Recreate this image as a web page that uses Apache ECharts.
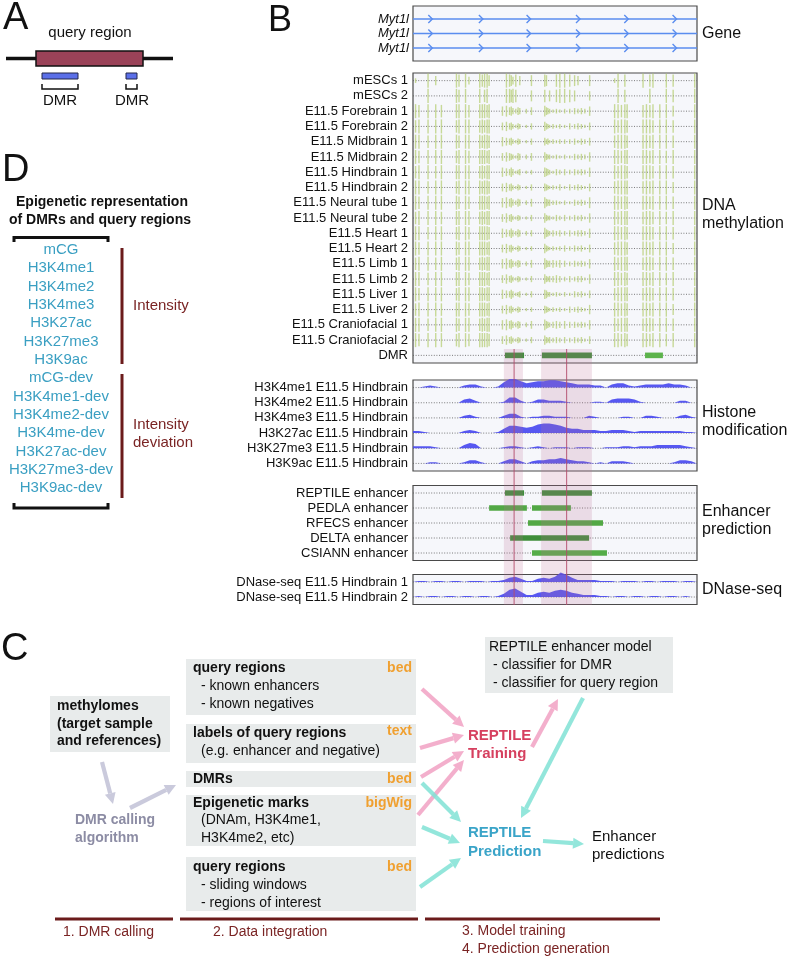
<!DOCTYPE html>
<html><head><meta charset="utf-8">
<script src="https://cdn.jsdelivr.net/npm/echarts@6/dist/echarts.min.js"></script>
<style>html,body{margin:0;padding:0;background:#fff}#c{width:793px;height:959px}</style>
</head><body><div id="c"></div><script>
const FONT = '"Liberation Sans", Arial, Helvetica, sans-serif';

// ================= DATA =================
// genomic axis: arbitrary units 0..1000 across the browser window
const geneNames = ['Myt1l', 'Myt1l', 'Myt1l'];
const geneStart = 0, geneEnd = 1000;
const geneChevrons = [61, 239, 407, 581, 751, 921];

const methSamples = ['mESCs 1', 'mESCs 2', 'E11.5 Forebrain 1', 'E11.5 Forebrain 2', 'E11.5 Midbrain 1',
  'E11.5 Midbrain 2', 'E11.5 Hindbrain 1', 'E11.5 Hindbrain 2', 'E11.5 Neural tube 1', 'E11.5 Neural tube 2',
  'E11.5 Heart 1', 'E11.5 Heart 2', 'E11.5 Limb 1', 'E11.5 Limb 2', 'E11.5 Liver 1', 'E11.5 Liver 2',
  'E11.5 Craniofacial 1', 'E11.5 Craniofacial 2'];
const cpgSites = [9, 21, 53, 80, 100, 153, 162, 185, 197, 235, 244, 252, 261, 268,
  315, 329, 340, 346, 352, 362, 370, 376, 399, 417,
  464, 470, 475, 481, 493, 505, 517, 534, 552, 569, 581, 593, 605, 622,
  710, 722, 734, 746, 754, 810, 822, 834, 845, 869, 892, 916, 992];
// methylation level per CpG site (0..9), one string per sample
const methLevels = [
  '30960989598997' + '0987580607' + '87000899876007' + '3908090890989',
  '00900989090890' + '0998980007' + '80070899870006' + '0908000900989',
  '98998999899989' + '6756435435' + '75432323343436' + '9989989899979',
  '89999899989899' + '5645324324' + '64323232434325' + '9899899989989',
  '99899989998998' + '6545324324' + '53423233342435' + '8999899899989',
  '98999899899989' + '5654325435' + '64332323243436' + '9989999899899',
  '89989999989899' + '6546423423' + '65432434343436' + '9899899989989',
  '99899899998998' + '5645324324' + '54323242434325' + '8999989899979',
  '98999989899989' + '6756435435' + '75443323243437' + '9989899899989',
  '89998999989899' + '5645324324' + '64332434343426' + '9899989989899',
  '99899899899998' + '6546435434' + '75434343434436' + '9989899989989',
  '98999989999989' + '5645324323' + '64323234343425' + '8999899899979',
  '89989899989899' + '6756435435' + '75445454343436' + '9899989989989',
  '99899999899989' + '5645324324' + '64344543434426' + '9989899899899',
  '98999899999899' + '6546423424' + '65332323243425' + '8999989989989',
  '89998999899989' + '5645324323' + '54323232434326' + '9989899899979',
  '99899989989899' + '6756435435' + '75434545443436' + '9899989989989',
  '98999899899998' + '5645324324' + '64343434343425' + '9989899899899'
];
const dmrRegions = [[324, 391], [454, 630], [817, 880]];

const signalPos = [0, 20, 40, 60, 80, 100, 120, 140, 160, 180, 200, 220, 240, 260, 280, 300, 320, 340, 360, 380,
  400, 420, 440, 460, 480, 500, 520, 540, 560, 580, 600, 620, 640, 660, 680, 700, 720, 740, 760, 780,
  800, 820, 840, 860, 880, 900, 920, 940, 960, 980, 1000];
const histoneNames = ['H3K4me1 E11.5 Hindbrain', 'H3K4me2 E11.5 Hindbrain', 'H3K4me3 E11.5 Hindbrain',
  'H3K27ac E11.5 Hindbrain', 'H3K27me3 E11.5 Hindbrain', 'H3K9ac E11.5 Hindbrain'];
const h3k4me1 = [0,0,1,2,1, 0,0,0,0,2, 3,3,1,0,0, 1,5,8,8,6, 4,5,6,6,7, 7,6,5,4,3, 3,3,2,2,0, 3,4,4,2,1, 2,3,3,3,3, 4,3,3,2,0, 0];
const h3k4me2 = [0,0,0,0,0, 0,0,0,0,3, 4,2,0,0,0, 0,1,5,5,2, 0,1,3,3,2, 2,2,1,0,0, 0,0,1,1,0, 3,4,4,4,3, 1,0,0,0,0, 0,0,2,2,0, 0];
const h3k4me3 = [0,0,0,0,0, 0,0,0,0,2, 3,1,0,0,0, 0,2,4,4,1, 0,1,1,2,2, 1,1,1,0,0, 0,2,1,0,0, 0,0,1,1,0, 0,2,2,1,0, 0,0,2,3,1, 0];
const h3k27ac = [2,2,1,0,0, 0,0,0,0,2, 3,2,0,0,0, 1,4,7,7,6, 5,6,8,9,9, 8,7,5,4,4, 3,3,3,2,2, 3,3,3,2,1, 2,2,2,2,2, 2,2,2,1,1, 0];
const h3k27me3 = [2,2,2,2,1, 0,0,0,0,3, 5,4,0,0,0, 0,1,2,2,1, 0,1,2,1,0, 1,1,1,0,1, 1,1,0,0,1, 1,1,2,2,1, 2,2,2,3,3, 3,3,3,2,1, 0];
const h3k9ac = [0,0,0,1,1, 0,0,0,0,1, 3,3,1,0,0, 0,2,4,4,2, 0,2,3,3,4, 4,5,4,3,2, 2,1,0,1,0, 2,2,2,1,0, 0,0,0,0,0, 0,1,3,3,2, 0];
const histoneSignals = [h3k4me1, h3k4me2, h3k4me3, h3k27ac, h3k27me3, h3k9ac];

const enhancerNames = ['REPTILE enhancer', 'PEDLA enhancer', 'RFECS enhancer', 'DELTA enhancer', 'CSIANN enhancer'];
const reptileCalls = [[324, 391], [454, 630]];
const pedlaCalls = [[268, 401], [419, 556]];
const rfecsCalls = [[405, 669]];
const deltaCalls = [[342, 620]];
const csiannCalls = [[419, 683]];
const enhancerCalls = [reptileCalls, pedlaCalls, rfecsCalls, deltaCalls, csiannCalls];

const dnaseNames = ['DNase-seq E11.5 Hindbrain 1', 'DNase-seq E11.5 Hindbrain 2'];
const dnase1 = [0,1,1,0,1, 1,0,1,1,0, 1,1,1,0,1, 1,2,4,5,3, 1,1,3,4,3, 5,9,7,4,2, 2,2,2,1,1, 1,0,1,1,1, 0,1,1,0,1, 1,1,0,1,1, 0];
const dnase2 = [0,1,0,1,1, 0,1,1,0,1, 1,0,1,1,0, 1,3,7,8,5, 2,2,4,5,4, 6,7,6,4,3, 2,2,2,1,1, 0,1,1,0,1, 1,0,1,1,0, 1,1,0,1,0, 0];
const dnaseSignals = [dnase1, dnase2];

const highlightRegions = [[320, 387], [451, 630]];
const highlightLines = [356, 541];

// ================= STYLES =================
const GENE_BLUE = '#5a8def';
const METH_GREEN = '#b3cc6e';
const SIGNAL_BLUE = '#4646f0';
const DMR_COLORS = ['#3e8e3a', '#3e8e3a', '#5cb34c'];
const ENH_COLORS = ['#3e8e3a', '#52a845', '#52a845', '#3e8e3a', '#55ad48'];
const BOX_BG = '#f6f7fb';
const BORDER = '#4a4a4a';
const ROW_LINE = '#5a5a5a';

const BX = 413, BW = 284;
const FRAME = {show: true, backgroundColor: BOX_BG, borderColor: BORDER, borderWidth: 1.2};
const grids = [
  {left: BX, top: 11.75, width: BW, height: 43.5, show: false},   // gene rows
  Object.assign({left: BX, top: 73, width: BW, height: 290}, FRAME),
  Object.assign({left: BX, top: 380, width: BW, height: 91}, FRAME),
  Object.assign({left: BX, top: 485.5, width: BW, height: 75}, FRAME),
  Object.assign({left: BX, top: 574.5, width: BW, height: 30}, FRAME),
  {left: BX, top: 349, width: BW, height: 256, show: false},       // highlight overlay
  Object.assign({left: BX, top: 6, width: BW, height: 55}, FRAME)   // gene frame
];

const xAxes = grids.map((g, i) => ({type: 'value', gridIndex: i, min: 0, max: 1000, show: false}));
const catY = (gi, data, extra) => ({type: 'category', gridIndex: gi, data, inverse: true,
  axisLine: {show: false}, axisTick: {show: false}, splitLine: {show: false},
  axisLabel: Object.assign({interval: 0, fontSize: 13, color: '#111', fontFamily: FONT, margin: 5}, extra || {})});
const yAxes = [
  catY(0, geneNames, {fontStyle: 'italic', margin: 4}),
  catY(1, methSamples.concat(['DMR'])),
  catY(2, histoneNames),
  catY(3, enhancerNames),
  catY(4, dnaseNames),
  {type: 'value', gridIndex: 5, min: 0, max: 1, inverse: true, show: false},
  {type: 'value', gridIndex: 6, min: 0, max: 1, show: false}
];

function rowLines(gi, n) {
  const data = [];
  for (let i = 0; i < n; i++) data.push([0, i]);
  return {type: 'custom', xAxisIndex: gi, yAxisIndex: gi, data, silent: true, z: 1,
    renderItem: (p, api) => {
      const i = api.value(1);
      const a = api.coord([0, i]), b = api.coord([1000, i]);
      return {type: 'line', shape: {x1: a[0], y1: a[1], x2: b[0], y2: b[1]},
        style: {stroke: ROW_LINE, lineWidth: 0.8, lineDash: [1, 1.6]}};
    }};
}

function profileSeries(gi, signals, scale) {
  return {type: 'custom', xAxisIndex: gi, yAxisIndex: gi, silent: true, z: 3,
    data: signals.map((s, i) => [0, i]),
    renderItem: (p, api) => {
      const i = api.value(1);
      const sig = signals[i];
      const unit = api.size([0, 1])[1];
      const pts = [api.coord([signalPos[0], i])];
      sig.forEach((v, k) => {
        const c = api.coord([signalPos[k], i]);
        pts.push([c[0], c[1] - v / 10 * unit * scale]);
      });
      pts.push(api.coord([signalPos[signalPos.length - 1], i]));
      return {type: 'polygon', shape: {points: pts}, style: {fill: SIGNAL_BLUE, opacity: 0.9}};
    }};
}

// methylation bar data
const methData = [];
methLevels.forEach((str, r) => {
  for (let k = 0; k < Math.min(str.length, cpgSites.length); k++) {
    const lv = +str[k];
    if (lv > 0) methData.push([cpgSites[k], r, lv]);
  }
});

const series = [
  // gene
  {type: 'custom', xAxisIndex: 0, yAxisIndex: 0, silent: true, z: 5, data: geneNames.map((n, i) => [0, i]),
    renderItem: (p, api) => {
      const i = api.value(1);
      const a = api.coord([geneStart, i]), b = api.coord([geneEnd, i]);
      const kids = [{type: 'line', shape: {x1: a[0], y1: a[1], x2: b[0], y2: b[1]}, style: {stroke: GENE_BLUE, lineWidth: 1.6}}];
      geneChevrons.forEach(c => {
        const q = api.coord([c, i]);
        kids.push({type: 'polyline', shape: {points: [[q[0] - 2, q[1] - 4], [q[0] + 2, q[1]], [q[0] - 2, q[1] + 4]]},
          style: {stroke: GENE_BLUE, lineWidth: 1.4, fill: 'none'}});
      });
      return {type: 'group', children: kids};
    }},
  // methylation
  rowLines(1, methSamples.length + 1),
  {type: 'custom', xAxisIndex: 1, yAxisIndex: 1, silent: true, z: 3, data: methData,
    renderItem: (p, api) => {
      const c = api.coord([api.value(0), api.value(1)]);
      const unit = api.size([0, 1])[1];
      const h = api.value(2) / 9 * unit * 0.46;
      return {type: 'rect', shape: {x: c[0] - 0.7, y: c[1] - h, width: 1.4, height: 2 * h},
        style: {fill: METH_GREEN, opacity: 0.7}};
    }},
  {type: 'custom', xAxisIndex: 1, yAxisIndex: 1, silent: true, z: 4,
    data: dmrRegions.map((d, k) => [d[0], methSamples.length, d[1], k]),
    renderItem: (p, api) => {
      const a = api.coord([api.value(0), api.value(1)]), b = api.coord([api.value(2), api.value(1)]);
      return {type: 'rect', shape: {x: a[0], y: a[1] - 2.8, width: b[0] - a[0], height: 5.6},
        style: {fill: DMR_COLORS[api.value(3)]}};
    }},
  // histone
  rowLines(2, histoneNames.length),
  profileSeries(2, histoneSignals, 0.7),
  // enhancer
  rowLines(3, enhancerNames.length),
  {type: 'custom', xAxisIndex: 3, yAxisIndex: 3, silent: true, z: 4,
    data: enhancerCalls.flatMap((calls, i) => calls.map(c => [c[0], i, c[1]])),
    renderItem: (p, api) => {
      const i = api.value(1);
      const a = api.coord([api.value(0), i]), b = api.coord([api.value(2), i]);
      return {type: 'rect', shape: {x: a[0], y: a[1] - 2.7, width: b[0] - a[0], height: 5.4},
        style: {fill: ENH_COLORS[i]}};
    }},
  // dnase
  rowLines(4, dnaseNames.length),
  profileSeries(4, dnaseSignals, 0.7),
  // highlight overlay
  {type: 'custom', xAxisIndex: 5, yAxisIndex: 5, silent: true, z: 10,
    data: highlightRegions.map(r => [r[0], 0, r[1]]),
    renderItem: (p, api) => {
      const a = api.coord([api.value(0), 0]), b = api.coord([api.value(2), 1]);
      return {type: 'rect', shape: {x: a[0], y: Math.min(a[1], b[1]), width: b[0] - a[0], height: Math.abs(b[1] - a[1])},
        style: {fill: 'rgba(190,110,150,0.2)'}};
    }},
  {type: 'custom', xAxisIndex: 5, yAxisIndex: 5, silent: true, z: 11,
    data: highlightLines.map(x => [x, 0]),
    renderItem: (p, api) => {
      const a = api.coord([api.value(0), 0]), b = api.coord([api.value(0), 1]);
      return {type: 'line', shape: {x1: a[0], y1: a[1], x2: b[0], y2: b[1]},
        style: {stroke: '#b24a6a', lineWidth: 1, opacity: 0.9}};
    }}
];

// ================= ANNOTATION GRAPHICS (panels A, B titles, C, D) =================
function txt(text, x, y, o = {}) {
  return {type: 'text', x, y, silent: true, z: 20, style: {text, fill: o.color || '#111',
    fontSize: o.size || 14, fontWeight: o.weight || 'normal', fontStyle: o.style || 'normal', fontFamily: FONT,
    textAlign: o.align || 'left', align: o.align || 'left', textVerticalAlign: 'middle', verticalAlign: 'middle'}};
}
function rect(x, y, w, h, fill, stroke, lw) {
  return {type: 'rect', silent: true, z: 15, shape: {x, y, width: w, height: h},
    style: {fill, stroke: stroke || null, lineWidth: lw || 0}};
}
function pline(points, color, lw) {
  return {type: 'polyline', silent: true, z: 16, shape: {points}, style: {stroke: color, lineWidth: lw, fill: 'none'}};
}
function arrow(x1, y1, x2, y2, color, op) {
  const dx = x2 - x1, dy = y2 - y1, L = Math.hypot(dx, dy), ux = dx / L, uy = dy / L;
  const hl = 11, hw = 11, bx = x2 - ux * hl, by = y2 - uy * hl, px = -uy, py = ux;
  return [
    {type: 'line', silent: true, z: 16, shape: {x1, y1, x2: bx, y2: by}, style: {stroke: color, lineWidth: 4.2, opacity: op}},
    {type: 'polygon', silent: true, z: 16, shape: {points: [[x2, y2], [bx + px * hw / 2, by + py * hw / 2], [bx - px * hw / 2, by - py * hw / 2]]},
      style: {fill: color, opacity: op}}
  ];
}

const TEAL = '#3a9fc2', MAROON = '#6b1b1b', MAROON_T = '#7a2424', ORANGE = '#f0a030';
const GREYBOX = '#e8ebeb', PINK = '#f2a6c7', CYAN = '#80e2d5';
const dItems = ['mCG', 'H3K4me1', 'H3K4me2', 'H3K4me3', 'H3K27ac', 'H3K27me3', 'H3K9ac',
  'mCG-dev', 'H3K4me1-dev', 'H3K4me2-dev', 'H3K4me-dev', 'H3K27ac-dev', 'H3K27me3-dev', 'H3K9ac-dev'];

const g = [];
// Panel letters
g.push(txt('A', 3, 19, {size: 38}));
g.push(txt('B', 268, 21, {size: 36}));
g.push(txt('D', 2, 171, {size: 38}));
g.push(txt('C', 1, 650, {size: 38}));
// Panel A
g.push(txt('query region', 90, 33, {size: 15, align: 'center'}));
g.push({type: 'line', silent: true, z: 15, shape: {x1: 6, y1: 58.5, x2: 173, y2: 58.5}, style: {stroke: '#111', lineWidth: 3.5}});
g.push(rect(36, 51, 107, 15, '#9a4258', '#111', 1.5));
g.push(rect(42, 73, 36, 6, '#5b6fe8', '#23264a', 1));
g.push(rect(126, 73, 11, 6, '#5b6fe8', '#23264a', 1));
g.push(pline([[42, 84], [42, 89], [78, 89], [78, 84]], '#111', 1.5));
g.push(pline([[126, 84], [126, 89], [137, 89], [137, 84]], '#111', 1.5));
g.push(txt('DMR', 60, 101, {size: 15, align: 'center'}));
g.push(txt('DMR', 132, 101, {size: 15, align: 'center'}));
// Panel B right-hand titles
g.push(txt('Gene', 702, 34, {size: 16}));
g.push(txt('DNA', 702, 206, {size: 16}));
g.push(txt('methylation', 702, 224, {size: 16}));
g.push(txt('Histone', 702, 413, {size: 16}));
g.push(txt('modification', 702, 431, {size: 16}));
g.push(txt('Enhancer', 702, 512, {size: 16}));
g.push(txt('prediction', 702, 530, {size: 16}));
g.push(txt('DNase-seq', 702, 590, {size: 16}));
// Panel D
g.push(txt('Epigenetic representation', 102, 202, {size: 14, weight: 'bold', align: 'center'}));
g.push(txt('of DMRs and query regions', 100, 220, {size: 14, weight: 'bold', align: 'center'}));
g.push(pline([[14, 242], [14, 237.5], [108, 237.5], [108, 242]], '#111', 3));
dItems.forEach((s, i) => g.push(txt(s, 61, 250 + 18.33 * i, {size: 15, color: TEAL, align: 'center'})));
g.push({type: 'line', silent: true, z: 15, shape: {x1: 122, y1: 248, x2: 122, y2: 364}, style: {stroke: MAROON, lineWidth: 3}});
g.push({type: 'line', silent: true, z: 15, shape: {x1: 122, y1: 374, x2: 122, y2: 498}, style: {stroke: MAROON, lineWidth: 3}});
g.push(txt('Intensity', 133, 306, {size: 15, color: MAROON_T}));
g.push(txt('Intensity', 133, 425, {size: 15, color: MAROON_T}));
g.push(txt('deviation', 133, 443, {size: 15, color: MAROON_T}));
g.push(pline([[14, 503], [14, 508], [108, 508], [108, 503]], '#111', 3));
// Panel C
g.push(rect(50, 696, 120, 56, GREYBOX));
g.push(txt('methylomes', 57, 706, {weight: 'bold'}));
g.push(txt('(target sample', 57, 724, {weight: 'bold'}));
g.push(txt('and references)', 57, 741, {weight: 'bold'}));
g.push(...arrow(102, 762, 113, 804, '#cacadc', 1));
g.push(...arrow(130, 808, 176, 785, '#cacadc', 1));
g.push(txt('DMR calling', 75, 820, {weight: 'bold', color: '#8c8ca4', size: 14}));
g.push(txt('algorithm', 75, 838, {weight: 'bold', color: '#8c8ca4', size: 14}));
g.push(rect(186, 659, 230, 56, GREYBOX));
g.push(rect(186, 724, 230, 39, GREYBOX));
g.push(rect(186, 771, 230, 16, GREYBOX));
g.push(rect(186, 795, 230, 51, GREYBOX));
g.push(rect(186, 857, 230, 54, GREYBOX));
g.push(txt('query regions', 193, 668, {weight: 'bold'}));
g.push(txt('- known enhancers', 201, 686));
g.push(txt('- known negatives', 201, 704));
g.push(txt('labels of query regions', 193, 733, {weight: 'bold'}));
g.push(txt('(e.g. enhancer and negative)', 201, 751));
g.push(txt('DMRs', 193, 779, {weight: 'bold'}));
g.push(txt('Epigenetic marks', 193, 803, {weight: 'bold'}));
g.push(txt('(DNAm, H3K4me1,', 201, 820));
g.push(txt('H3K4me2, etc)', 201, 838));
g.push(txt('query regions', 193, 867, {weight: 'bold'}));
g.push(txt('- sliding windows', 201, 885));
g.push(txt('- regions of interest', 201, 903));
g.push(txt('bed', 412, 668, {weight: 'bold', color: ORANGE, align: 'right'}));
g.push(txt('text', 412, 731, {weight: 'bold', color: ORANGE, align: 'right'}));
g.push(txt('bed', 412, 779, {weight: 'bold', color: ORANGE, align: 'right'}));
g.push(txt('bigWig', 412, 803, {weight: 'bold', color: ORANGE, align: 'right'}));
g.push(txt('bed', 412, 867, {weight: 'bold', color: ORANGE, align: 'right'}));
g.push(rect(485, 637, 188, 56, GREYBOX));
g.push(txt('REPTILE enhancer model', 489, 647));
g.push(txt('- classifier for DMR', 493, 665));
g.push(txt('- classifier for query region', 493, 683));
// arrows
g.push(...arrow(422, 689, 464, 727, PINK, 0.9));
g.push(...arrow(420, 748, 464, 735, PINK, 0.9));
g.push(...arrow(421, 777, 464, 751, PINK, 0.9));
g.push(...arrow(418, 815, 464, 760, PINK, 0.9));
g.push(...arrow(532, 747, 558, 699, PINK, 0.9));
g.push(...arrow(422, 783, 461, 822, CYAN, 0.85));
g.push(...arrow(422, 827, 460, 843, CYAN, 0.85));
g.push(...arrow(420, 887, 461, 858, CYAN, 0.85));
g.push(...arrow(583, 698, 521, 818, CYAN, 0.85));
g.push(...arrow(543, 841, 584, 844, CYAN, 0.85));
g.push(txt('REPTILE', 468, 736, {weight: 'bold', color: '#d6405f', size: 15}));
g.push(txt('Training', 468, 754, {weight: 'bold', color: '#d6405f', size: 15}));
g.push(txt('REPTILE', 468, 833, {weight: 'bold', color: '#3aa4c8', size: 15}));
g.push(txt('Prediction', 468, 852, {weight: 'bold', color: '#3aa4c8', size: 15}));
g.push(txt('Enhancer', 592, 837, {size: 15}));
g.push(txt('predictions', 592, 855, {size: 15}));
// step bars
g.push({type: 'line', silent: true, z: 15, shape: {x1: 55, y1: 919, x2: 173, y2: 919}, style: {stroke: MAROON, lineWidth: 3}});
g.push({type: 'line', silent: true, z: 15, shape: {x1: 180, y1: 919, x2: 418, y2: 919}, style: {stroke: MAROON, lineWidth: 3}});
g.push({type: 'line', silent: true, z: 15, shape: {x1: 425, y1: 919, x2: 660, y2: 919}, style: {stroke: MAROON, lineWidth: 3}});
g.push(txt('1. DMR calling', 63, 932, {color: MAROON_T}));
g.push(txt('2. Data integration', 213, 932, {color: MAROON_T}));
g.push(txt('3. Model training', 462, 931, {color: MAROON_T}));
g.push(txt('4. Prediction generation', 462, 949, {color: MAROON_T}));

const chart = echarts.init(document.getElementById('c'), null, {renderer: 'canvas', width: 793, height: 959});
chart.setOption({
  animation: false,
  backgroundColor: '#ffffff',
  textStyle: {fontFamily: FONT},
  grid: grids,
  xAxis: xAxes,
  yAxis: yAxes,
  series,
  graphic: {elements: g}
});
</script></body></html>
